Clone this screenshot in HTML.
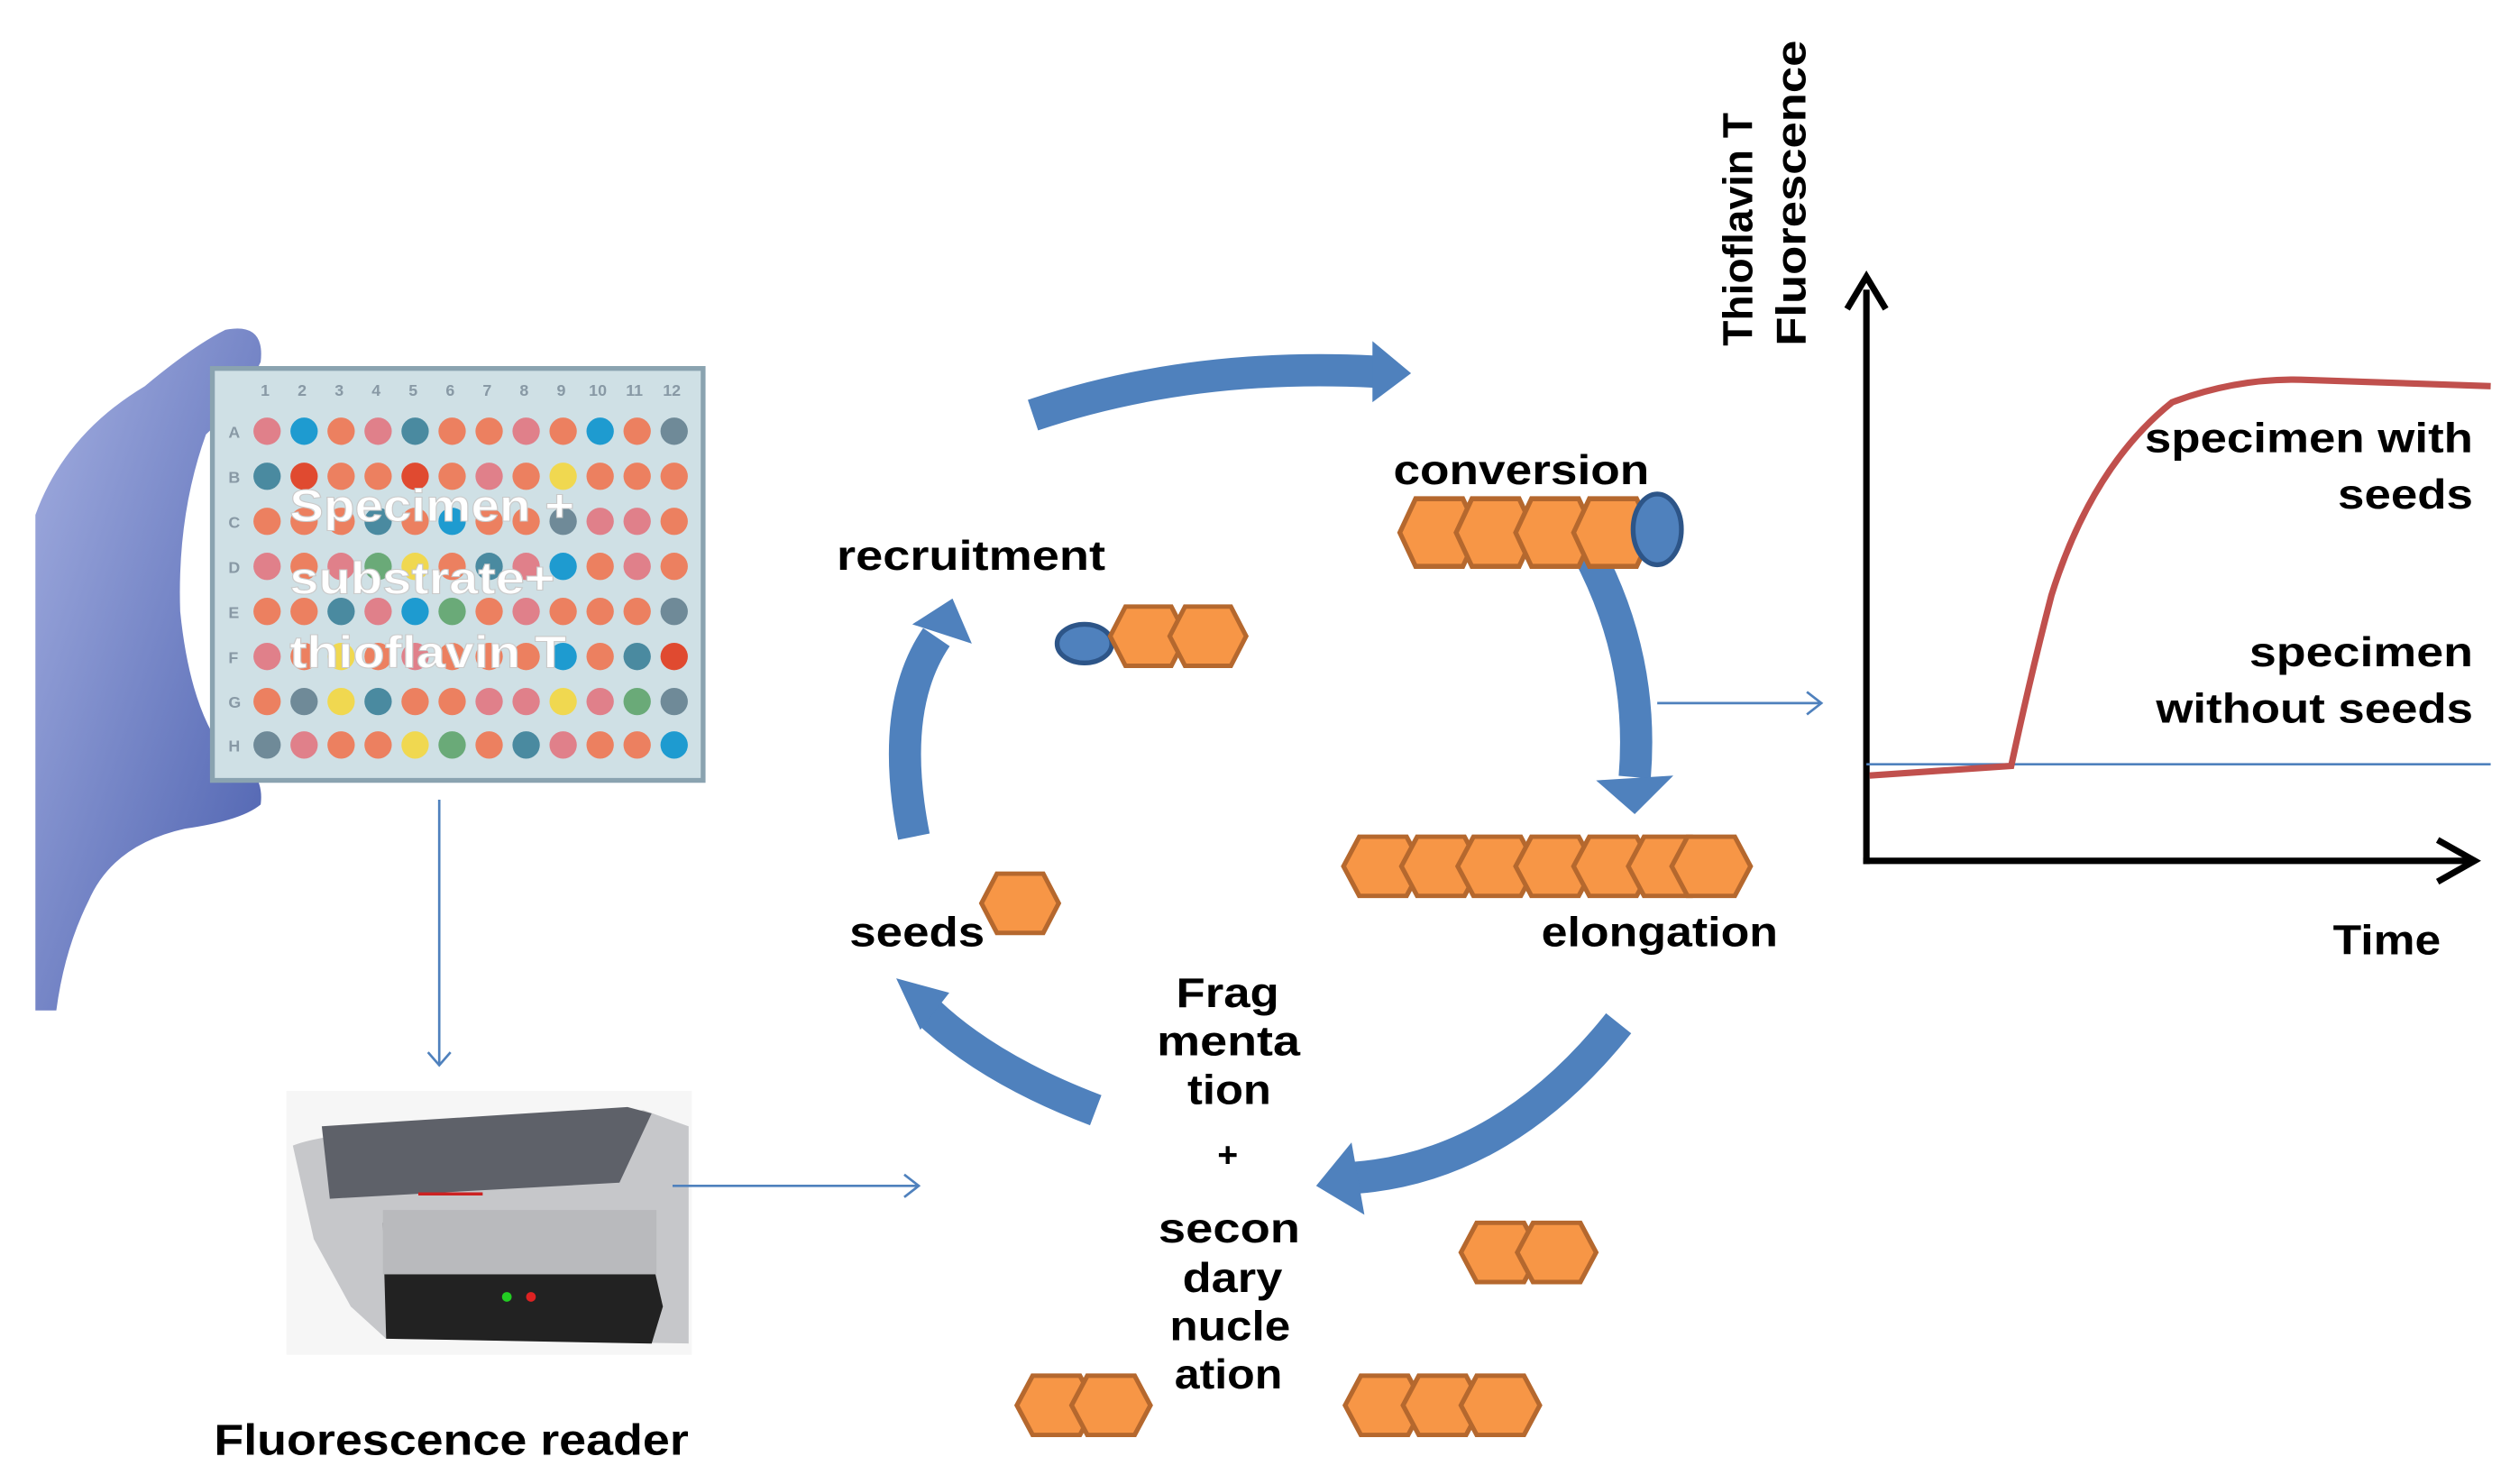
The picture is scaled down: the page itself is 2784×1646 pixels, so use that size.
<!DOCTYPE html>
<html><head><meta charset="utf-8"><style>html,body{margin:0;padding:0;background:#fff}svg{display:block}text{font-family:"Liberation Sans",Arial,sans-serif;font-weight:bold}</style></head>
<body>
<svg width="2784" height="1646" viewBox="0 0 1560 922.3" preserveAspectRatio="none" xmlns="http://www.w3.org/2000/svg">
<defs>
<linearGradient id="hg" x1="0" y1="0" x2="1" y2="1"><stop offset="0" stop-color="#a3aee0"/><stop offset="1" stop-color="#4a5fae"/></linearGradient>
<polygon id="hx" points="0,20 10,0 40,0 50,20 40,40 10,40" fill="#f79646" stroke="#b5682e" stroke-width="3"/>
</defs>
<!-- hand -->
<path d="M22,628 L22,320 Q40,270 90,240 Q120,215 140,205 Q165,200 162,225 Q150,250 128,270 Q110,320 112,380 Q118,440 140,468 Q165,478 162,500 Q150,510 115,515 Q70,525 55,560 Q40,590 35,628 Z" fill="url(#hg)"/>
<!-- plate -->
<rect x="132" y="229" width="305" height="256" fill="#cfe0e5" stroke="#8aa3b0" stroke-width="3"/>
<g font-size="10" fill="#8899a5" font-weight="normal">
<text x="162" y="246">1</text><text x="185" y="246">2</text><text x="208" y="246">3</text><text x="231" y="246">4</text><text x="254" y="246">5</text><text x="277" y="246">6</text><text x="300" y="246">7</text><text x="323" y="246">8</text><text x="346" y="246">9</text><text x="366" y="246">10</text><text x="389" y="246">11</text><text x="412" y="246">12</text>
<text x="142" y="272">A</text><text x="142" y="300">B</text><text x="142" y="328">C</text><text x="142" y="356">D</text><text x="142" y="384">E</text><text x="142" y="412">F</text><text x="142" y="440">G</text><text x="142" y="467">H</text>
</g>
<g>
<g transform="translate(166,268)">
<circle cx="0" cy="0" r="8.5" fill="#e0808a"/><circle cx="23" cy="0" r="8.5" fill="#1e9bd0"/><circle cx="46" cy="0" r="8.5" fill="#ec8060"/><circle cx="69" cy="0" r="8.5" fill="#e0808a"/><circle cx="92" cy="0" r="8.5" fill="#4a8aa0"/><circle cx="115" cy="0" r="8.5" fill="#ec8060"/><circle cx="138" cy="0" r="8.5" fill="#ec8060"/><circle cx="161" cy="0" r="8.5" fill="#e0808a"/><circle cx="184" cy="0" r="8.5" fill="#ec8060"/><circle cx="207" cy="0" r="8.5" fill="#1e9bd0"/><circle cx="230" cy="0" r="8.5" fill="#ec8060"/><circle cx="253" cy="0" r="8.5" fill="#6f8a98"/>
</g>
<g transform="translate(166,296)">
<circle cx="0" cy="0" r="8.5" fill="#4a8aa0"/><circle cx="23" cy="0" r="8.5" fill="#e04a30"/><circle cx="46" cy="0" r="8.5" fill="#ec8060"/><circle cx="69" cy="0" r="8.5" fill="#ec8060"/><circle cx="92" cy="0" r="8.5" fill="#e04a30"/><circle cx="115" cy="0" r="8.5" fill="#ec8060"/><circle cx="138" cy="0" r="8.5" fill="#e0808a"/><circle cx="161" cy="0" r="8.5" fill="#ec8060"/><circle cx="184" cy="0" r="8.5" fill="#f0d850"/><circle cx="207" cy="0" r="8.5" fill="#ec8060"/><circle cx="230" cy="0" r="8.5" fill="#ec8060"/><circle cx="253" cy="0" r="8.5" fill="#ec8060"/>
</g>
<g transform="translate(166,324)">
<circle cx="0" cy="0" r="8.5" fill="#ec8060"/><circle cx="23" cy="0" r="8.5" fill="#ec8060"/><circle cx="46" cy="0" r="8.5" fill="#ec8060"/><circle cx="69" cy="0" r="8.5" fill="#4a8aa0"/><circle cx="92" cy="0" r="8.5" fill="#ec8060"/><circle cx="115" cy="0" r="8.5" fill="#1e9bd0"/><circle cx="138" cy="0" r="8.5" fill="#ec8060"/><circle cx="161" cy="0" r="8.5" fill="#ec8060"/><circle cx="184" cy="0" r="8.5" fill="#6f8a98"/><circle cx="207" cy="0" r="8.5" fill="#e0808a"/><circle cx="230" cy="0" r="8.5" fill="#e0808a"/><circle cx="253" cy="0" r="8.5" fill="#ec8060"/>
</g>
<g transform="translate(166,352)">
<circle cx="0" cy="0" r="8.5" fill="#e0808a"/><circle cx="23" cy="0" r="8.5" fill="#ec8060"/><circle cx="46" cy="0" r="8.5" fill="#e0808a"/><circle cx="69" cy="0" r="8.5" fill="#6aaa78"/><circle cx="92" cy="0" r="8.5" fill="#f0d850"/><circle cx="115" cy="0" r="8.5" fill="#ec8060"/><circle cx="138" cy="0" r="8.5" fill="#4a8aa0"/><circle cx="161" cy="0" r="8.5" fill="#e0808a"/><circle cx="184" cy="0" r="8.5" fill="#1e9bd0"/><circle cx="207" cy="0" r="8.5" fill="#ec8060"/><circle cx="230" cy="0" r="8.5" fill="#e0808a"/><circle cx="253" cy="0" r="8.5" fill="#ec8060"/>
</g>
<g transform="translate(166,380)">
<circle cx="0" cy="0" r="8.5" fill="#ec8060"/><circle cx="23" cy="0" r="8.5" fill="#ec8060"/><circle cx="46" cy="0" r="8.5" fill="#4a8aa0"/><circle cx="69" cy="0" r="8.5" fill="#e0808a"/><circle cx="92" cy="0" r="8.5" fill="#1e9bd0"/><circle cx="115" cy="0" r="8.5" fill="#6aaa78"/><circle cx="138" cy="0" r="8.5" fill="#ec8060"/><circle cx="161" cy="0" r="8.5" fill="#e0808a"/><circle cx="184" cy="0" r="8.5" fill="#ec8060"/><circle cx="207" cy="0" r="8.5" fill="#ec8060"/><circle cx="230" cy="0" r="8.5" fill="#ec8060"/><circle cx="253" cy="0" r="8.5" fill="#6f8a98"/>
</g>
<g transform="translate(166,408)">
<circle cx="0" cy="0" r="8.5" fill="#e0808a"/><circle cx="23" cy="0" r="8.5" fill="#ec8060"/><circle cx="46" cy="0" r="8.5" fill="#f0d850"/><circle cx="69" cy="0" r="8.5" fill="#ec8060"/><circle cx="92" cy="0" r="8.5" fill="#e0808a"/><circle cx="115" cy="0" r="8.5" fill="#ec8060"/><circle cx="138" cy="0" r="8.5" fill="#ec8060"/><circle cx="161" cy="0" r="8.5" fill="#ec8060"/><circle cx="184" cy="0" r="8.5" fill="#1e9bd0"/><circle cx="207" cy="0" r="8.5" fill="#ec8060"/><circle cx="230" cy="0" r="8.5" fill="#4a8aa0"/><circle cx="253" cy="0" r="8.5" fill="#e04a30"/>
</g>
<g transform="translate(166,436)">
<circle cx="0" cy="0" r="8.5" fill="#ec8060"/><circle cx="23" cy="0" r="8.5" fill="#6f8a98"/><circle cx="46" cy="0" r="8.5" fill="#f0d850"/><circle cx="69" cy="0" r="8.5" fill="#4a8aa0"/><circle cx="92" cy="0" r="8.5" fill="#ec8060"/><circle cx="115" cy="0" r="8.5" fill="#ec8060"/><circle cx="138" cy="0" r="8.5" fill="#e0808a"/><circle cx="161" cy="0" r="8.5" fill="#e0808a"/><circle cx="184" cy="0" r="8.5" fill="#f0d850"/><circle cx="207" cy="0" r="8.5" fill="#e0808a"/><circle cx="230" cy="0" r="8.5" fill="#6aaa78"/><circle cx="253" cy="0" r="8.5" fill="#6f8a98"/>
</g>
<g transform="translate(166,463)">
<circle cx="0" cy="0" r="8.5" fill="#6f8a98"/><circle cx="23" cy="0" r="8.5" fill="#e0808a"/><circle cx="46" cy="0" r="8.5" fill="#ec8060"/><circle cx="69" cy="0" r="8.5" fill="#ec8060"/><circle cx="92" cy="0" r="8.5" fill="#f0d850"/><circle cx="115" cy="0" r="8.5" fill="#6aaa78"/><circle cx="138" cy="0" r="8.5" fill="#ec8060"/><circle cx="161" cy="0" r="8.5" fill="#4a8aa0"/><circle cx="184" cy="0" r="8.5" fill="#e0808a"/><circle cx="207" cy="0" r="8.5" fill="#ec8060"/><circle cx="230" cy="0" r="8.5" fill="#ec8060"/><circle cx="253" cy="0" r="8.5" fill="#1e9bd0"/>
</g>
</g>
<g font-size="28" fill="#fff" stroke="#c9c9c9" stroke-width="0.6" lengthAdjust="spacingAndGlyphs">
<text x="180" y="324" textLength="177" lengthAdjust="spacingAndGlyphs">Specimen +</text><text x="180" y="369" textLength="165" lengthAdjust="spacingAndGlyphs">substrate+</text><text x="180" y="415" textLength="172" lengthAdjust="spacingAndGlyphs">thioflavin T</text>
</g>
<!-- arrow down -->
<line x1="273" y1="497" x2="273" y2="662" stroke="#4f81bd" stroke-width="1.5"/>
<polyline points="266,654 273,662 280,654" fill="none" stroke="#4f81bd" stroke-width="1.5"/>
<!-- printer -->
<rect x="178" y="678" width="252" height="164" fill="#f6f6f6"/>
<path d="M182,712 Q210,700 400,690 L428,700 L428,835 L240,832 L218,812 L195,770 Z" fill="#c6c7ca"/>
<path d="M200,700 L390,688 L405,692 L385,735 L205,745 Z" fill="#5e6169"/>
<path d="M238,760 L400,760 L412,812 L405,835 L240,832 Z" fill="#222"/>
<rect x="238" y="752" width="170" height="40" fill="#b9babd"/>
<circle cx="315" cy="806" r="3" fill="#2c2"/><circle cx="330" cy="806" r="3" fill="#d22"/>
<line x1="260" y1="742" x2="300" y2="742" stroke="#c22" stroke-width="2"/>
<text x="133" y="904" font-size="27" fill="#000" textLength="295" lengthAdjust="spacingAndGlyphs">Fluorescence reader</text>
<line x1="418" y1="737" x2="571" y2="737" stroke="#4f81bd" stroke-width="1.5"/>
<polyline points="562,730 571,737 562,744" fill="none" stroke="#4f81bd" stroke-width="1.5"/>
<!-- cycle arrows -->
<g stroke="#4f81bd" stroke-width="20" fill="none">
<path d="M642,258 Q740,225 855,231"/>
<path d="M988,345 Q1022,410 1016,483"/>
<path d="M1006,636 Q935,725 842,732"/>
<path d="M681,690 Q615,665 577,629"/>
<path d="M568,520 Q552,440 582,396"/>
</g>
<g fill="#4f81bd">
<polygon points="853,212 877,232 853,250"/>
<polygon points="992,485 1016,506 1040,482"/>
<polygon points="840,710 818,737 848,755"/>
<polygon points="557,608 572,640 590,617"/>
<polygon points="592,372 567,388 604,400"/>
</g>
<!-- molecules -->
<text x="866" y="301" font-size="26" fill="#000" textLength="159" lengthAdjust="spacingAndGlyphs">conversion</text>
<use href="#hx" transform="translate(870,310) scale(0.98,1.05)"/>
<use href="#hx" transform="translate(905,310) scale(0.98,1.05)"/>
<use href="#hx" transform="translate(942,310) scale(0.98,1.05)"/>
<use href="#hx" transform="translate(978,310) scale(0.98,1.05)"/>
<ellipse cx="1030" cy="329" rx="15" ry="22" fill="#4f81bd" stroke="#2d5588" stroke-width="3"/>
<text x="520" y="354" font-size="26" fill="#000" textLength="167" lengthAdjust="spacingAndGlyphs">recruitment</text>
<ellipse cx="674" cy="400" rx="17" ry="12" fill="#4f81bd" stroke="#2d5588" stroke-width="3"/>
<use href="#hx" transform="translate(690,377) scale(0.95,0.92)"/>
<use href="#hx" transform="translate(727,377) scale(0.95,0.92)"/>
<text x="528" y="588" font-size="26" fill="#000" textLength="84" lengthAdjust="spacingAndGlyphs">seeds</text>
<use href="#hx" transform="translate(610,543) scale(0.96,0.92)"/>
<use href="#hx" transform="translate(835,520) scale(0.98,0.92)"/>
<use href="#hx" transform="translate(871,520) scale(0.98,0.92)"/>
<use href="#hx" transform="translate(906,520) scale(0.98,0.92)"/>
<use href="#hx" transform="translate(942,520) scale(0.98,0.92)"/>
<use href="#hx" transform="translate(978,520) scale(0.98,0.92)"/>
<use href="#hx" transform="translate(1012,520) scale(0.98,0.92)"/>
<use href="#hx" transform="translate(1039,520) scale(0.98,0.92)"/>
<text x="958" y="588" font-size="26" fill="#000" textLength="147" lengthAdjust="spacingAndGlyphs">elongation</text>
<g font-size="26" fill="#000">
<text x="731" y="626" textLength="64" lengthAdjust="spacingAndGlyphs">Frag</text>
<text x="719" y="656" textLength="89" lengthAdjust="spacingAndGlyphs">menta</text>
<text x="738" y="686" textLength="52" lengthAdjust="spacingAndGlyphs">tion</text>
<text x="763" y="725" font-size="22" text-anchor="middle">+</text>
<text x="720" y="772" textLength="88" lengthAdjust="spacingAndGlyphs">secon</text>
<text x="735" y="803" textLength="62" lengthAdjust="spacingAndGlyphs">dary</text>
<text x="727" y="833" textLength="75" lengthAdjust="spacingAndGlyphs">nucle</text>
<text x="730" y="863" textLength="67" lengthAdjust="spacingAndGlyphs">ation</text>
</g>
<use href="#hx" transform="translate(908,760) scale(0.98,0.92)"/>
<use href="#hx" transform="translate(943,760) scale(0.98,0.92)"/>
<use href="#hx" transform="translate(632,855) scale(0.98,0.92)"/>
<use href="#hx" transform="translate(666,855) scale(0.98,0.92)"/>
<use href="#hx" transform="translate(836,855) scale(0.98,0.92)"/>
<use href="#hx" transform="translate(872,855) scale(0.98,0.92)"/>
<use href="#hx" transform="translate(908,855) scale(0.98,0.92)"/>
<!-- connector to graph -->
<line x1="1030" y1="437" x2="1132" y2="437" stroke="#4f81bd" stroke-width="1.5"/>
<polyline points="1123,430 1132,437 1123,444" fill="none" stroke="#4f81bd" stroke-width="1.5"/>
<!-- graph -->
<line x1="1160" y1="537" x2="1160" y2="180" stroke="#000" stroke-width="4"/>
<polyline points="1148,192 1160,172 1172,192" fill="none" stroke="#000" stroke-width="4"/>
<line x1="1158" y1="535" x2="1535" y2="535" stroke="#000" stroke-width="4"/>
<polyline points="1515,522 1538,535 1515,548" fill="none" stroke="#000" stroke-width="4"/>
<line x1="1160" y1="475" x2="1548" y2="475" stroke="#4f81bd" stroke-width="1.5"/>
<path d="M1162,482 L1250,476 Q1262,420 1275,370 Q1300,290 1350,250 Q1390,235 1430,236 L1548,240" fill="none" stroke="#c0504d" stroke-width="4"/>
<g font-size="26" fill="#000">
<text transform="translate(1089,215) rotate(-90)" textLength="145" lengthAdjust="spacingAndGlyphs">Thioflavin T</text>
<text transform="translate(1122,215) rotate(-90)" textLength="190" lengthAdjust="spacingAndGlyphs">Fluorescence</text>
</g>
<g font-size="26" fill="#000">
<text x="1333" y="281" textLength="204" lengthAdjust="spacingAndGlyphs">specimen with</text>
<text x="1453" y="316" textLength="84" lengthAdjust="spacingAndGlyphs">seeds</text>
<text x="1398" y="414" textLength="139" lengthAdjust="spacingAndGlyphs">specimen</text>
<text x="1340" y="449" textLength="197" lengthAdjust="spacingAndGlyphs">without seeds</text>
</g>
<text x="1450" y="593" font-size="26" fill="#000" textLength="67" lengthAdjust="spacingAndGlyphs">Time</text>
</svg>
</body></html>
